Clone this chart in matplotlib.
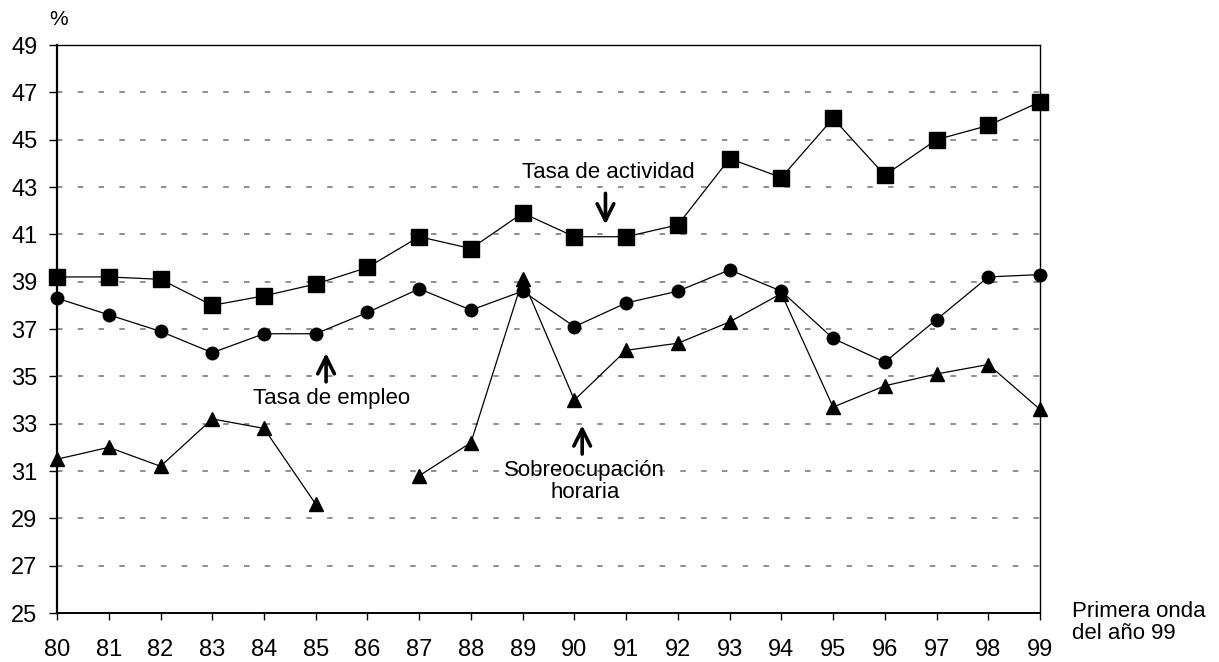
import numpy as np
import matplotlib
matplotlib.use("Agg")
import matplotlib.pyplot as plt

plt.rcParams['font.family'] = ['Liberation Sans', 'DejaVu Sans']

years = np.arange(80, 100)
year_labels = [str(y) for y in years]

# Tasa de actividad
actividad = [39.2, 39.2, 39.1, 38.0, 38.4, 38.9, 39.6, 40.9, 40.4, 41.9,
             40.9, 40.9, 41.4, 44.2, 43.4, 45.9, 43.5, 45.0, 45.6, 46.6]
# Tasa de empleo
empleo = [38.3, 37.6, 36.9, 36.0, 36.8, 36.8, 37.7, 38.7, 37.8, 38.6,
          37.1, 38.1, 38.6, 39.5, 38.6, 36.6, 35.6, 37.4, 39.2, 39.3]
# Sobreocupación horaria (no value for 86)
sobreocupacion = [31.5, 32.0, 31.2, 33.2, 32.8, 29.6, np.nan, 30.8, 32.2, 39.1,
                  34.0, 36.1, 36.4, 37.3, 38.5, 33.7, 34.6, 35.1, 35.5, 33.6]

yticks = np.arange(25, 50, 2)

fig = plt.figure(figsize=(12.19, 6.62), dpi=100)
ax = fig.add_axes([0.0468, 0.074, 0.8064, 0.858])

for v in yticks[1:-1]:
    ax.axhline(v, color='#707070', lw=1.1, linestyle=(0, (3.6, 10)), zorder=1)

ax.plot(years, actividad, color='black', lw=0.9, marker='s', markersize=11,
        zorder=3, clip_on=False)
ax.plot(years, empleo, color='black', lw=0.9, marker='o', markersize=9,
        zorder=3, clip_on=False)
ax.plot(years, sobreocupacion, color='black', lw=0.9, marker='^', markersize=10.5,
        zorder=3, clip_on=False)

ax.set_xlim(80, 99)
ax.set_ylim(25, 49)
ax.set_xticks(years)
ax.set_xticklabels(year_labels)
ax.set_yticks(yticks)

ax.tick_params(axis='y', direction='out', length=6, width=1, pad=8, labelsize=17)
ax.tick_params(axis='x', direction='out', length=5, width=1, pad=14, labelsize=17)

ax.spines['left'].set_linewidth(1.6)
ax.spines['bottom'].set_linewidth(1.4)
ax.spines['top'].set_linewidth(1)
ax.spines['right'].set_linewidth(1)

arrow = dict(arrowstyle='->', lw=2.6, color='black', mutation_scale=30)

ax.annotate('', xy=(90.6, 41.3), xytext=(90.6, 42.85), arrowprops=arrow)
ax.text(90.65, 43.6, 'Tasa de actividad', ha='center', va='center', fontsize=16)

ax.annotate('', xy=(85.2, 36.1), xytext=(85.2, 34.65), arrowprops=arrow)
ax.text(85.3, 34.05, 'Tasa de empleo', ha='center', va='center', fontsize=16)

ax.annotate('', xy=(90.15, 33.05), xytext=(90.15, 31.6), arrowprops=arrow)
ax.text(90.2, 30.55, 'Sobreocupación\nhoraria', ha='center', va='center',
        fontsize=16, linespacing=1.05)

fig.text(0.048, 0.97, '%', ha='center', va='center', fontsize=15)
fig.text(0.879, 0.06, 'Primera onda\ndel año 99', ha='left', va='center',
         fontsize=16, linespacing=1.05)

fig.savefig('out.png', dpi=100)
